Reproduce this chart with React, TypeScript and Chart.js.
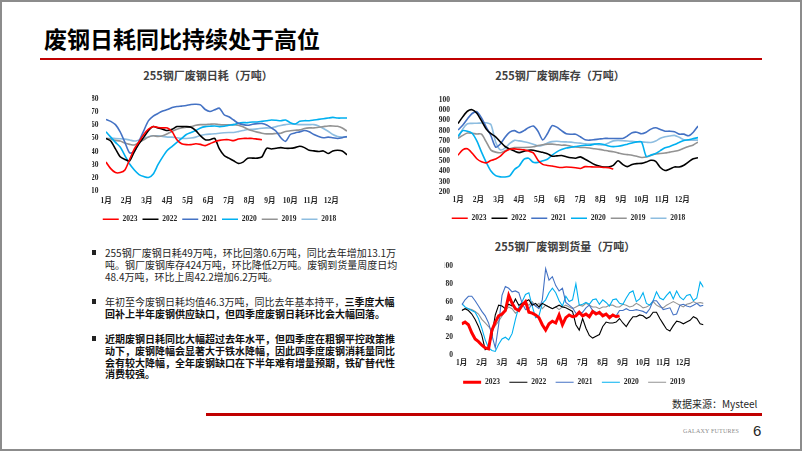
import React, { useEffect, useRef } from 'react';
import { Chart, registerables } from 'chart.js';

Chart.register(...registerables);

// ---------- categories ----------
const monthLabels = ['1月', '2月', '3月', '4月', '5月', '6月', '7月', '8月', '9月', '10月', '11月', '12月'];
const yearLabels = ['2023', '2022', '2021', '2020', '2019', '2018'];
const yearColors = ['#FF0000', '#000000', '#4472C4', '#00B0F0', '#939393', '#8DBDE0'];

// ---------- 255钢厂废钢日耗（万吨）, weekly ----------
const cons2023 = [32, 27, 24, 24, 26, 34, 42, 47.5, 53, 57, 59, 58.3, 58, 58, 55, 49, 46, 45.3, 45.3, 46, 45.5, 44.5, 46, 47.5, 48.5, 49, 49, 48.3, 49.5, 50, 50, 50, 49.5, 49];
const cons2022 = [50, 48, 42, 36, 34, 33, 40, 46, 51, 56, 59, 58, 57, 56, 57, 59, 59, 59, 58.5, 56, 52, 49, 49, 50, 42, 37, 35, 33, 31, 32, 35, 35, 35, 36, 42.5, 42, 42.5, 43, 42.5, 42.5, 43, 44, 43, 41, 40.5, 40, 40.5, 38.5, 40.5, 41, 40.5, 37.5];
const cons2021 = [64.5, 63, 60.5, 55, 47, 39, 40, 48, 56, 63.5, 67, 69, 70.8, 72, 73.5, 74.3, 74.6, 75, 75.8, 76, 75.5, 72, 70.5, 71.8, 73, 68, 66.5, 64, 61.5, 60.5, 60, 60.8, 61.3, 61.3, 60.2, 58, 55.5, 50.5, 47.8, 53, 54.2, 55, 56, 55, 53, 51.5, 50.5, 51, 50.5, 50, 50.5, 51.5];
const cons2020 = [55, 51, 47, 43.5, 37, 30.5, 26, 22.5, 21, 20.3, 23, 30, 36, 41, 44, 47, 50, 53, 54.5, 56, 58, 59, 59.3, 59.5, 59, 59.3, 60, 60.5, 61.5, 62, 62, 62.5, 62.5, 63, 63.5, 64, 63.8, 63.5, 64, 62, 61, 63, 63.5, 63.5, 64, 64.5, 65, 65.5, 66, 65.5, 65.5, 65.5];
const cons2019 = [50, 49.5, 48.5, 48, 46.5, 45.5, 45, 47, 49, 51, 52, 51.5, 52, 53.5, 55.5, 57, 58, 58.5, 59, 60, 60.5, 60.5, 60.8, 61, 60.5, 60.3, 60.3, 60.5, 60, 58.8, 57, 55.8, 54.8, 54, 53.5, 53.5, 53.8, 54, 55.3, 55.8, 56.2, 56.5, 57.5, 58, 58, 58.5, 59, 59.5, 59.5, 59.2, 58, 55.5];
const cons2018 = [50, 50, 50, 49.8, 49.5, 48.8, 48, 48.8, 50, 51.3, 52, 52, 51.5, 51, 51, 50.5, 50, 50, 50.3, 51, 52.3, 53, 53.3, 53.5, 54, 54.3, 54.5, 54.5, 55.2, 56, 56.8, 57, 57.3, 57.8, 58, 58, 59, 59.8, 60.5, 61, 60.8, 60.5, 60.5, 60.5, 60.5, 59.5, 57.5, 55.5, 53, 51.5, 51, 51];
const consTicks = [10, 80, 10]; // min, max, step

// ---------- 255钢厂废钢库存（万吨）, weekly ----------
const inv2023 = [560, 612, 622, 580, 525, 495, 485, 508, 522, 550, 595, 618, 622, 617, 612, 600, 583, 510, 470, 460, 455, 445, 440, 445, 442, 437, 430, 448, 447, 445, 445, 440, 437, 424];
const inv2022 = [870, 935, 990, 1005, 970, 895, 815, 770, 740, 690, 645, 620, 600, 585, 598, 609, 609, 598, 588, 575, 550, 553, 557, 545, 535, 530, 544, 520, 495, 470, 455, 445, 445, 460, 505, 470, 448, 470, 478, 480, 493, 510, 500, 440, 410, 425, 445, 445, 462, 495, 525, 535];
const inv2021 = [806, 853, 915, 968, 985, 925, 835, 750, 640, 670, 735, 785, 800, 780, 800, 830, 845, 795, 710, 770, 850, 835, 800, 770, 765, 765, 740, 710, 707, 712, 718, 724, 724, 724, 724, 724, 748, 780, 785, 770, 785, 815, 828, 812, 795, 795, 790, 766, 766, 750, 785, 845];
const inv2020 = [745, 800, 795, 775, 700, 590, 490, 405, 360, 348, 347, 358, 420, 455, 520, 530, 490, 490, 505, 520, 560, 593, 615, 630, 638, 645, 653, 658, 658, 668, 672, 665, 650, 644, 648, 656, 668, 680, 690, 690, 548, 562, 576, 605, 632, 646, 664, 685, 704, 712, 722, 732];
const inv2019 = [724, 754, 777, 774, 768, 766, 690, 610, 590, 584, 603, 622, 635, 635, 636, 638, 642, 654, 662, 668, 668, 663, 658, 658, 648, 640, 635, 635, 630, 623, 617, 609, 600, 594, 583, 572, 566, 560, 550, 538, 542, 558, 573, 576, 581, 590, 598, 609, 628, 645, 660, 688];
const inv2018 = [724, 815, 868, 871, 873, 875, 877, 860, 690, 612, 630, 675, 705, 700, 692, 682, 668, 650, 658, 680, 693, 697, 692, 690, 688, 682, 678, 672, 668, 668, 663, 660, 680, 700, 705, 702, 699, 695, 690, 690, 686, 684, 698, 725, 740, 748, 754, 735, 712, 707, 707, 707];
const invTicks = [200, 1100, 100];

// ---------- 255钢厂废钢到货量（万吨）, sampled every 1/6 month ----------
const arr2023 = [35, 37, 34, 25, 18, 15, 11, 8, 7, 28, 37, 44, 46, 50, 67, 58, 52, 50, 56, 60, 48, 47, 45, 42, 34, 28, 35, 38, 36, 45, 34, 42, 45, 43, 44, 48, 44, 46, 43, 49, 46, 48, 44, 46, 42, 45, 43, 44];
const arr2022 = [50, 52, 50, 46, 40, 32, 22, 6, 8, 22, 45, 56, 55, 52, 57, 55, 63, 56, 58, 60, 62, 56, 58, 54, 58, 56, 54, 52, 54, 56, 54, 53, 51, 49, 34, 28, 41, 30, 22, 19, 21, 23, 32, 37, 36, 36, 37, 41, 36, 32, 38, 43, 43, 45, 44, 41, 43, 48, 48, 41, 35, 29, 27, 33, 38, 37, 35, 37, 39, 43, 41, 35, 34];
const arr2021 = [56, 62, 66, 66, 61, 55, 49, 44, 36, 22, 8, 34, 67, 77, 75, 71, 72, 70, 58, 51, 52, 58, 55, 52, 62, 97, 84, 88, 78, 72, 75, 59, 56, 53, 47, 46, 48, 53, 56, 50, 48, 46, 46, 45, 44, 44, 44, 50, 50, 52, 50, 50, 51, 50, 49, 47, 52, 61, 61, 56, 51, 52, 53, 45, 46, 56, 57, 55, 54, 56, 58, 55, 56];
const arr2020 = [58, 54, 52, 50, 48, 41, 30, 17, 8, 5, 4, 12, 18, 20, 17, 24, 40, 54, 60, 68, 70, 55, 42, 44, 58, 62, 70, 75, 70, 61, 55, 66, 60, 62, 80, 56, 57, 59, 57, 62, 63, 57, 62, 59, 55, 62, 63, 58, 57, 64, 70, 72, 60, 63, 70, 58, 56, 61, 71, 64, 62, 67, 71, 63, 72, 65, 62, 67, 68, 61, 64, 82, 76];
const arr2019 = [50, 52, 52, 51, 49, 46, 40, 36, 32, 28, 33, 38, 44, 50, 54, 52, 47, 50, 57, 59, 56, 60, 55, 58, 52, 56, 54, 52, 54, 51, 54, 56, 54, 52, 54, 56, 55, 58, 56, 54, 54, 52, 54, 54, 56, 56, 54, 54, 57, 56, 54, 55, 58, 56, 53, 54, 56, 60, 56, 54, 53, 56, 58, 60, 58, 56, 54, 57, 58, 60, 58, 59, 58];
const arrTicks = [0, 100, 20];
const arrSamplesPerMonth = 6;

const WEEKS_PER_YEAR = 52;

// ---------- styling ----------
const CJK = '"Noto Sans CJK SC", "Noto Sans", sans-serif';
const TICK_FONT = { family: "'Liberation Serif', 'Noto Sans CJK SC', serif", size: 7.5, weight: 'bold' as const };
const TICK_COLOR = '#262626';

type Layout = {
  padL: number; padR: number; padT: number;
  yWidth: number; yPad: number;
  xMax: number; xTicks: number[]; xHeight: number; xPad: number;
  legendBox: number; legendPad: number;
  ticks: number[];
  tension: number;
};

function buildConfig(series: number[][], widths: number[], xStep: number, L: Layout): any {
  const datasets = series.map((vals, i) => ({
    label: yearLabels[i],
    data: vals.map((v, j) => ({ x: j * xStep, y: v })),
    borderColor: yearColors[i],
    backgroundColor: yearColors[i],
    borderWidth: widths[i],
    pointRadius: 0,
    tension: L.tension,
    fill: false,
  }));
  return {
    type: 'line',
    data: { datasets },
    options: {
      responsive: false,
      animation: false,
      devicePixelRatio: 1,
      layout: { padding: { left: L.padL, right: L.padR, top: L.padT, bottom: 0 } },
      plugins: {
        title: { display: false },
        tooltip: { enabled: false },
        legend: {
          display: true,
          position: 'bottom',
          align: 'center',
          labels: {
            usePointStyle: true,
            pointStyle: 'line',
            pointStyleWidth: L.legendBox,
            padding: L.legendPad,
            font: TICK_FONT,
            color: TICK_COLOR,
            generateLabels: (chart: any) =>
              chart.data.datasets.map((ds: any, i: number) => ({
                text: ds.label,
                fillStyle: ds.borderColor,
                strokeStyle: ds.borderColor,
                lineWidth: ds.borderWidth,
                pointStyle: 'line',
                hidden: false,
                datasetIndex: i,
                fontColor: TICK_COLOR,
              })),
          },
        },
      },
      scales: {
        x: {
          type: 'linear',
          min: 0,
          max: L.xMax,
          grid: { display: false, drawTicks: false },
          border: { display: false },
          afterBuildTicks: (s: any) => {
            s.ticks = L.xTicks.map((v) => ({ value: v }));
          },
          afterFit: (s: any) => {
            s.height = L.xHeight;
          },
          ticks: {
            autoSkip: false,
            maxRotation: 0,
            padding: L.xPad,
            font: TICK_FONT,
            color: TICK_COLOR,
            callback: (_v: any, i: number) => monthLabels[i],
          },
        },
        y: {
          type: 'linear',
          min: L.ticks[0],
          max: L.ticks[1],
          grid: { display: false, drawTicks: false },
          border: { display: false },
          afterFit: (s: any) => {
            s.width = L.yWidth;
          },
          ticks: {
            stepSize: L.ticks[2],
            autoSkip: false,
            padding: L.yPad,
            font: TICK_FONT,
            color: TICK_COLOR,
            callback: (v: any) => String(v),
          },
        },
      },
    },
  };
}

function ChartCanvas({ left, top, width, height, make }: { left: number; top: number; width: number; height: number; make: () => any }) {
  const ref = useRef<HTMLCanvasElement>(null);
  useEffect(() => {
    const chart = new Chart(ref.current as HTMLCanvasElement, make());
    return () => chart.destroy();
  }, []);
  return (
    <canvas
      ref={ref}
      width={width}
      height={height}
      style={{ position: 'absolute', left, top, width, height }}
    />
  );
}

const weeklyMonthTicks = monthLabels.map((_, i) => (i * WEEKS_PER_YEAR) / 12);
const monthTicks = monthLabels.map((_, i) => i);

const makeConsumption = () =>
  buildConfig([cons2023, cons2022, cons2021, cons2020, cons2019, cons2018], [1.6, 1.6, 1.6, 1.6, 1.6, 1.6], 1, {
    padL: 12, padR: 18, padT: 39,
    yWidth: 14, yPad: 7.5,
    xMax: 51, xTicks: weeklyMonthTicks, xHeight: 19.5, xPad: 6,
    legendBox: 16, legendPad: 5,
    ticks: consTicks, tension: 0.25,
  });

const makeInventory = () =>
  buildConfig([inv2023, inv2022, inv2021, inv2020, inv2019, inv2018], [1.6, 1.6, 1.6, 1.6, 1.6, 1.6], 1, {
    padL: 19, padR: 20, padT: 40,
    yWidth: 19, yPad: 8,
    xMax: 51, xTicks: weeklyMonthTicks, xHeight: 17.5, xPad: 4,
    legendBox: 16, legendPad: 5,
    ticks: invTicks, tension: 0.25,
  });

const makeArrivals = () =>
  buildConfig([arr2023, arr2022, arr2021, arr2020, arr2019], [3, 1.1, 1.1, 1.1, 1.1], 1 / arrSamplesPerMonth, {
    padL: 24.5, padR: 16.5, padT: 31,
    yWidth: 17.2, yPad: 8.7,
    xMax: 12, xTicks: monthTicks, xHeight: 14, xPad: 3.5,
    legendBox: 18, legendPad: 9.5,
    ticks: arrTicks, tension: 0,
  });

const chartTitle = (text: string, cx: number, cy: number) => (
  <div
    style={{
      position: 'absolute',
      left: cx,
      top: cy - 7,
      transform: 'translateX(-50%)',
      fontFamily: CJK,
      fontSize: 11,
      fontWeight: 700,
      color: '#404040',
      lineHeight: '14px',
      whiteSpace: 'nowrap',
    }}
  >
    {text}
  </div>
);

const bullet = (cy: number) => (
  <div style={{ position: 'absolute', left: 91.5, top: cy - 2.3, width: 4.6, height: 4.6, background: '#222' }} />
);

const textStyle: React.CSSProperties = {
  position: 'absolute',
  left: 105,
  fontFamily: CJK,
  fontSize: 10,
  lineHeight: '11.7px',
  color: '#262626',
  whiteSpace: 'nowrap',
};

export default function App() {
  return (
    <div
      style={{
        position: 'absolute',
        left: 0,
        top: 0,
        width: 802,
        height: 451,
        background: '#ffffff',
        overflow: 'hidden',
        fontFamily: CJK,
      }}
    >
      {/* slide heading */}
      <div
        style={{
          position: 'absolute',
          left: 44,
          top: 24,
          fontSize: 23,
          fontWeight: 700,
          lineHeight: '28px',
          color: '#000',
          whiteSpace: 'nowrap',
        }}
      >
        废钢日耗同比持续处于高位
      </div>
      <div style={{ position: 'absolute', left: 40, top: 58, width: 722, height: 2, background: '#C00000' }} />

      {/* chart titles */}
      {chartTitle('255钢厂废钢日耗（万吨）', 208, 75)}
      {chartTitle('255钢厂废钢库存（万吨）', 560, 75)}
      {chartTitle('255钢厂废钢到货量（万吨）', 565, 246)}

      {/* charts */}
      <ChartCanvas left={80} top={60} width={285} height={173} make={makeConsumption} />
      <ChartCanvas left={420} top={60} width={298} height={172} make={makeInventory} />
      <ChartCanvas left={420} top={235} width={300} height={161} make={makeArrivals} />

      {/* commentary */}
      {bullet(252.5)}
      <div style={{ ...textStyle, top: 247.2 }}>
        255钢厂废钢日耗49万吨，环比回落0.6万吨，同比去年增加13.1万
        <br />
        吨。钢厂废钢库存424万吨，环比降低2万吨。废钢到货量周度日均
        <br />
        48.4万吨，环比上周42.2增加6.2万吨。
      </div>
      {bullet(301.5)}
      <div style={{ ...textStyle, top: 296.1 }}>
        年初至今废钢日耗均值46.3万吨，同比去年基本持平，<b style={{ color: '#111' }}>三季度大幅</b>
        <br />
        <b style={{ color: '#111' }}>回补上半年废钢供应缺口，但四季度废钢日耗环比会大幅回落。</b>
      </div>
      {bullet(338.5)}
      <div style={{ ...textStyle, top: 333.1, fontWeight: 700, color: '#111' }}>
        近期废钢日耗同比大幅超过去年水平，但四季度在粗钢平控政策推
        <br />
        动下，废钢降幅会显著大于铁水降幅，因此四季度废钢消耗量同比
        <br />
        会有较大降幅，全年废钢缺口在下半年难有增量预期，铁矿替代性
        <br />
        消费较强。
      </div>

      {/* source + footer */}
      <div
        style={{
          position: 'absolute',
          left: 672,
          top: 397,
          fontSize: 10,
          lineHeight: '14px',
          color: '#262626',
          whiteSpace: 'nowrap',
        }}
      >
        数据来源：Mysteel
      </div>
      <div style={{ position: 'absolute', left: 206, top: 413, width: 556, height: 2.5, background: '#C00000' }} />
      <div
        style={{
          position: 'absolute',
          left: 683,
          top: 427,
          fontFamily: "'Liberation Serif', serif",
          fontSize: 6,
          lineHeight: '8px',
          color: '#8a8a8a',
          whiteSpace: 'nowrap',
          letterSpacing: 0.2,
        }}
      >
        GALAXY FUTURES
      </div>
      <div
        style={{
          position: 'absolute',
          left: 753,
          top: 422,
          fontFamily: "'Liberation Sans', sans-serif",
          fontSize: 15,
          lineHeight: '18px',
          color: '#262626',
        }}
      >
        6
      </div>

      {/* slide frame */}
      <div
        style={{
          position: 'absolute',
          left: 0,
          top: 0,
          width: 802,
          height: 451,
          boxSizing: 'border-box',
          border: '2px solid #8c8c8c',
          pointerEvents: 'none',
        }}
      />
    </div>
  );
}
